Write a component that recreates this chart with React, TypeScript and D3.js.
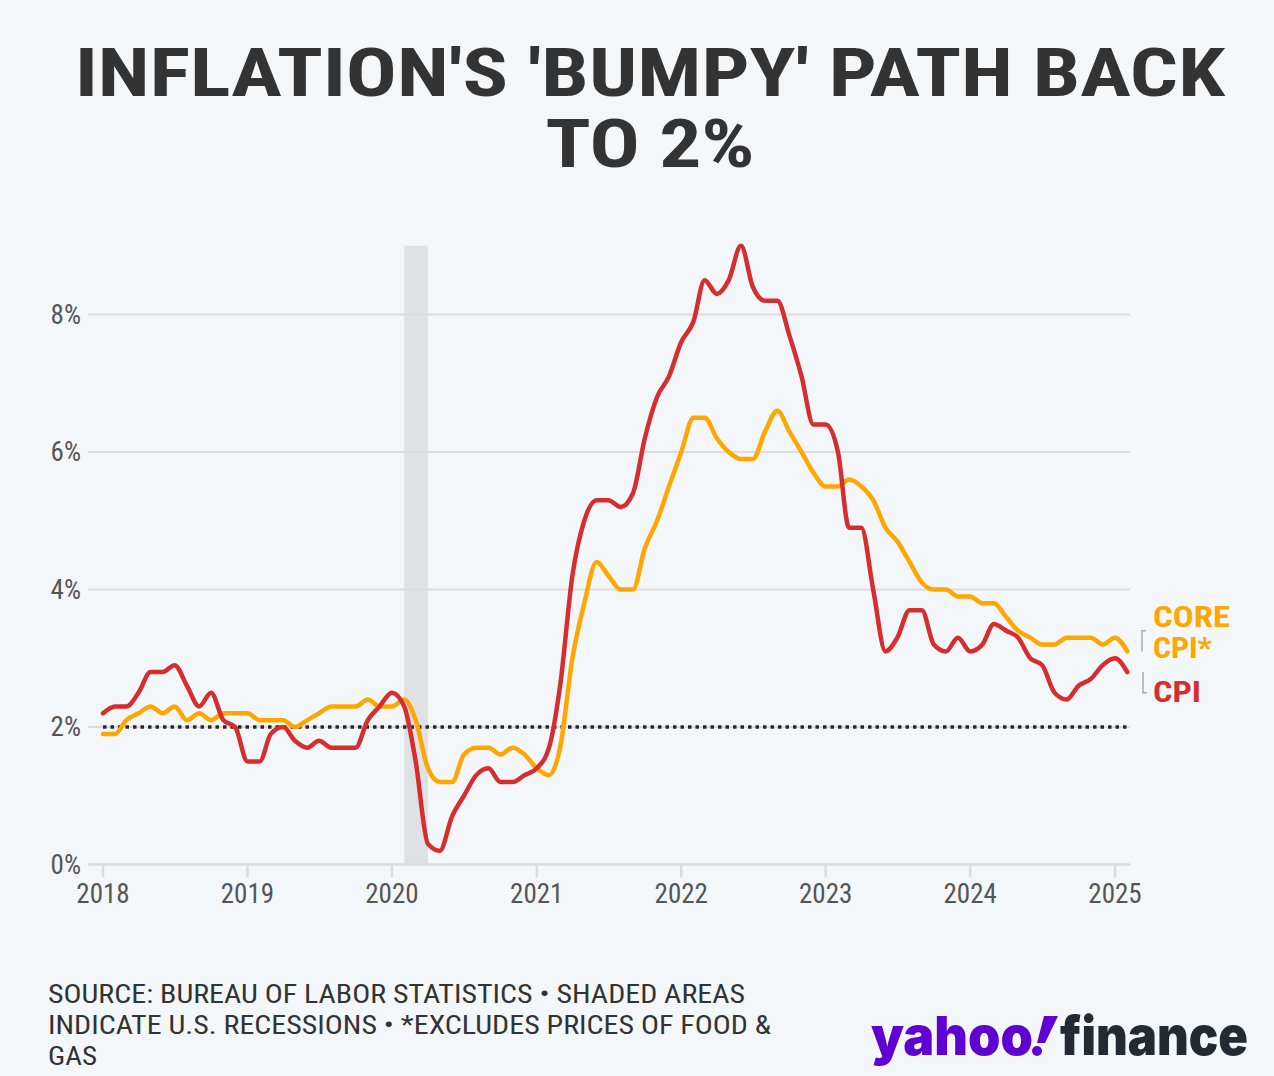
import { useMemo } from "react";
import * as d3 from "d3";

// monthly YoY % change, Jan 2018 - Feb 2025
const months = d3.timeMonth.range(new Date(2018, 0, 1), new Date(2025, 2, 1));

const cpi = [
  2.2, 2.3, 2.3, 2.5, 2.8, 2.8, 2.9, 2.6, 2.3, 2.5, 2.1, 2.0,
  1.5, 1.5, 1.9, 2.0, 1.8, 1.7, 1.8, 1.7, 1.7, 1.7, 2.1, 2.3,
  2.5, 2.3, 1.5, 0.3, 0.2, 0.7, 1.0, 1.3, 1.4, 1.2, 1.2, 1.3,
  1.4, 1.7, 2.6, 4.2, 5.0, 5.3, 5.3, 5.2, 5.4, 6.2, 6.8, 7.1,
  7.6, 7.9, 8.5, 8.3, 8.5, 9.0, 8.4, 8.2, 8.2, 7.7, 7.1, 6.4,
  6.4, 6.0, 4.9, 4.9, 4.0, 3.1, 3.3, 3.7, 3.7, 3.2, 3.1, 3.3,
  3.1, 3.2, 3.5, 3.4, 3.3, 3.0, 2.9, 2.5, 2.4, 2.6, 2.7, 2.9,
  3.0, 2.8,
];

const coreCpi = [
  1.9, 1.9, 2.1, 2.2, 2.3, 2.2, 2.3, 2.1, 2.2, 2.1, 2.2, 2.2,
  2.2, 2.1, 2.1, 2.1, 2.0, 2.1, 2.2, 2.3, 2.3, 2.3, 2.4, 2.3,
  2.3, 2.4, 2.1, 1.4, 1.2, 1.2, 1.6, 1.7, 1.7, 1.6, 1.7, 1.6,
  1.4, 1.3, 1.7, 3.0, 3.8, 4.4, 4.2, 4.0, 4.0, 4.6, 5.0, 5.5,
  6.0, 6.5, 6.5, 6.2, 6.0, 5.9, 5.9, 6.3, 6.6, 6.3, 6.0, 5.7,
  5.5, 5.5, 5.6, 5.5, 5.3, 4.9, 4.7, 4.4, 4.1, 4.0, 4.0, 3.9,
  3.9, 3.8, 3.8, 3.6, 3.4, 3.3, 3.2, 3.2, 3.3, 3.3, 3.3, 3.2,
  3.3, 3.1,
];

const yTicks = [0, 2, 4, 6, 8];
const xTickYears = [2018, 2019, 2020, 2021, 2022, 2023, 2024, 2025];
const recession: [Date, Date] = [new Date(2020, 1, 1), new Date(2020, 3, 1)];
const target = 2;

const titleLines = ["INFLATION'S 'BUMPY' PATH BACK", "TO 2%"];
const footerLines = [
  "SOURCE: BUREAU OF LABOR STATISTICS • SHADED AREAS",
  "INDICATE U.S. RECESSIONS • *EXCLUDES PRICES OF FOOD &",
  "GAS",
];

const W = 1274;
const H = 1076;
const BG = "#f4f7fa";
const RED = "#d62d2f";
const ORANGE = "#ffa600";
const NARROW = "'Liberation Sans Narrow', 'Roboto Condensed', 'Liberation Sans', sans-serif";

export default function App() {
  const x = useMemo(
    () => d3.scaleTime().domain([new Date(2018, 0, 1), new Date(2025, 0, 1)]).range([103, 1115]),
    []
  );
  const y = useMemo(() => d3.scaleLinear().domain([0, 8]).range([864.5, 314.5]), []);

  const line = d3
    .line<number>()
    .x((_, i) => x(months[i]))
    .y((d) => y(d))
    .curve(d3.curveMonotoneX);

  const xEnd = x(months[months.length - 1]);

  return (
    <div style={{ position: "absolute", left: 0, top: 0, width: W, height: H, background: BG }}>
      <svg width={W} height={H} style={{ display: "block" }}>
        <rect width={W} height={H} fill={BG} />

        {/* title */}
        <g fill="#333" fontFamily={NARROW} fontWeight={700} textAnchor="middle">
          <text x={650} y={96} fontSize={66} textLength={1150} lengthAdjust="spacingAndGlyphs">
            {titleLines[0]}
          </text>
          <text x={650} y={167} fontSize={66} textLength={209} lengthAdjust="spacingAndGlyphs">
            {titleLines[1]}
          </text>
        </g>

        {/* recession band */}
        <rect
          x={x(recession[0])}
          width={x(recession[1]) - x(recession[0])}
          y={y(9)}
          height={y(0) - y(9)}
          fill="#dfe2e4"
        />

        {/* gridlines */}
        {yTicks.map((t) => (
          <g key={t}>
            <line
              x1={88}
              x2={1130}
              y1={y(t)}
              y2={y(t)}
              stroke="#dcdcdc"
              strokeWidth={t === 0 ? 2.5 : 2}
            />
            <text
              x={81}
              y={y(t)}
              dy="0.35em"
              textAnchor="end"
              fontFamily={NARROW}
              fontSize={27}
              fill="#555"
            >
              {t}%
            </text>
          </g>
        ))}

        {/* x ticks */}
        {xTickYears.map((yr) => {
          const px = x(new Date(yr, 0, 1));
          return (
            <g key={yr}>
              <line x1={px} x2={px} y1={y(0)} y2={y(0) + 13} stroke="#dcdcdc" strokeWidth={2.5} />
              <text
                x={px}
                y={903}
                textAnchor="middle"
                fontFamily={NARROW}
                fontSize={27}
                fill="#555"
              >
                {yr}
              </text>
            </g>
          );
        })}

        {/* 2% target */}
        <line
          x1={x(months[0])}
          x2={xEnd}
          y1={y(target)}
          y2={y(target)}
          stroke="#2a2a2a"
          strokeWidth={3.5}
          strokeDasharray="3.5 4"
        />

        {/* series */}
        <path d={line(coreCpi) ?? ""} fill="none" stroke={ORANGE} strokeWidth={4.5} strokeLinejoin="round" strokeLinecap="round" />
        <path d={line(cpi) ?? ""} fill="none" stroke={RED} strokeWidth={4.5} strokeLinejoin="round" strokeLinecap="round" />

        {/* series labels */}
        <g fill="none" stroke="#aaa" strokeWidth={1.5}>
          <path d={`M1146,${y(3.4)} h-4 v${y(3.1) - y(3.4)}`} />
          <path d={`M1143,${y(2.8)} v${y(2.5) - y(2.8)} h4`} />
        </g>
        <g fontFamily={NARROW} fontWeight={700} fontSize={29}>
          <text x={1153} y={627} fill={ORANGE} textLength={77} lengthAdjust="spacingAndGlyphs">
            CORE
          </text>
          <text x={1153} y={658} fill={ORANGE} textLength={59} lengthAdjust="spacingAndGlyphs">
            CPI*
          </text>
          <text x={1153} y={702} fill={RED} textLength={48} lengthAdjust="spacingAndGlyphs">
            CPI
          </text>
        </g>

        {/* footer */}
        <g fontFamily={NARROW} fontSize={25} fill="#333">
          <text x={48} y={1003} textLength={697} lengthAdjust="spacingAndGlyphs">
            {footerLines[0]}
          </text>
          <text x={48} y={1034} textLength={723} lengthAdjust="spacingAndGlyphs">
            {footerLines[1]}
          </text>
          <text x={48} y={1065} textLength={49} lengthAdjust="spacingAndGlyphs">
            {footerLines[2]}
          </text>
        </g>

        {/* logo */}
        <g fontFamily="Inter, 'Open Sans', sans-serif" fontWeight={900} fontSize={54}>
          <text x={871} y={1055} fill="#6001d2" textLength={162} lengthAdjust="spacingAndGlyphs">
            yahoo
          </text>
          <path d="M1044,1016 L1058,1016 L1045,1043 L1037,1043 Z" fill="#6001d2" />
          <circle cx={1037} cy={1051} r={5} fill="#6001d2" />
          <text x={1060} y={1055} fill="#232a31" textLength={188} lengthAdjust="spacingAndGlyphs">
            finance
          </text>
        </g>
      </svg>
    </div>
  );
}
